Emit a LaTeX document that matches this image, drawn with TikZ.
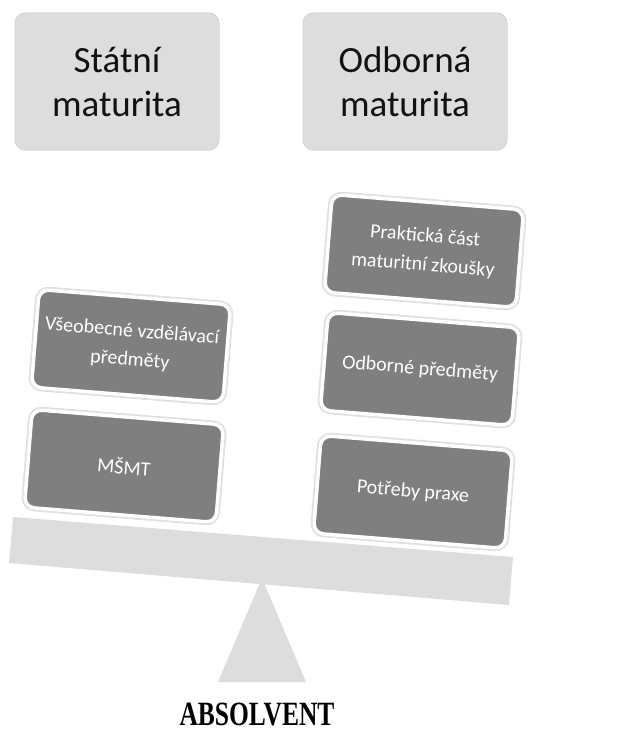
\documentclass[tikz,border=0pt]{standalone}
\usepackage{fontspec}
\setmainfont{Carlito}
\newfontfamily\timesfont{Liberation Serif}
\usepackage{graphicx}
\usepackage{tikz}
\usetikzlibrary{positioning}
\definecolor{hdrgray}{RGB}{221,221,221}
\definecolor{hdrframe}{RGB}{214,214,214}
\definecolor{panfill}{RGB}{127,127,127}
\definecolor{beamgray}{RGB}{221,221,221}
\definecolor{mydark}{RGB}{17,17,17}
\tikzset{
  titlebox/.style={rectangle, draw=hdrframe, fill=hdrgray,
    minimum width=204pt, minimum height=137pt, align=center,
    font=\fontsize{37}{44}\selectfont, text=mydark,
    rounded corners=10pt, line width=1pt},
  panbox/.style={rectangle, draw=white, fill=panfill,
    preaction={draw=black!12, line width=7pt},
    minimum width=192pt, minimum height=98pt, align=center,
    font=\fontsize{20}{29}\selectfont, text=white,
    rounded corners=10pt, line width=3.5pt, rotate=-4.6},
  part/.style={fill=beamgray, draw=none}
}
\begin{document}
\begin{tikzpicture}[x=1pt, y=-1pt]
\useasboundingbox (0,0) rectangle (634,733);
% headings
\node[titlebox] (statni) at (117,81.5) {Státní\\maturita};
\node[titlebox] (odborna) at (405,81.5) {Odborná\\maturita};
% fulcrum and beam
\fill[part] (262,578) -- (306,682) -- (218,682) -- cycle;
\fill[part] (13,517) -- (513,557) -- (509,605) -- (9,563) -- cycle;
% left pan
\node[panbox] (vseob) at (131,346) {Všeobecné vzdělávací\\předměty};
\node[panbox] (msmt) at (124,466) {MŠMT};
% right pan
\node[panbox] (prakt) at (424,251) {Praktická část\\maturitní zkoušky};
\node[panbox] (odbpr) at (420,369) {Odborné předměty};
\node[panbox] (praxe) at (413,492) {Potřeby praxe};
% label
\node[font=\timesfont\bfseries\fontsize{34}{34}\selectfont, text=black, inner sep=0pt] (absolvent) at (257,714) {\scalebox{0.75}[1]{ABSOLVENT}};
\end{tikzpicture}
\end{document}
